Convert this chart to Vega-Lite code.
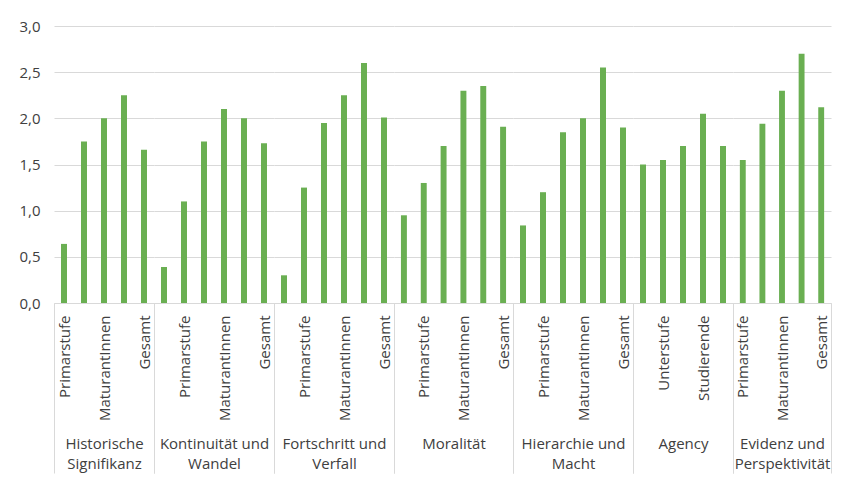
{
  "$schema": "https://vega.github.io/schema/vega-lite/v6.json",
  "padding": {"left": 18, "top": 19, "right": 5, "bottom": 5},
  "background": "white",
  "bounds": "flush",
  "data": {"values": [
    {"group": "Historische Signifikanz", "slot": "01|Primarstufe", "value": 0.64},
    {"group": "Historische Signifikanz", "slot": "02|Unterstufe", "value": 1.75},
    {"group": "Historische Signifikanz", "slot": "03|MaturantInnen", "value": 2.0},
    {"group": "Historische Signifikanz", "slot": "04|Studierende", "value": 2.25},
    {"group": "Historische Signifikanz", "slot": "05|Gesamt", "value": 1.66},
    {"group": "Kontinuität und Wandel", "slot": "06|Kindergarten", "value": 0.39},
    {"group": "Kontinuität und Wandel", "slot": "07|Primarstufe", "value": 1.1},
    {"group": "Kontinuität und Wandel", "slot": "08|Unterstufe", "value": 1.75},
    {"group": "Kontinuität und Wandel", "slot": "09|MaturantInnen", "value": 2.1},
    {"group": "Kontinuität und Wandel", "slot": "10|Studierende", "value": 2.0},
    {"group": "Kontinuität und Wandel", "slot": "11|Gesamt", "value": 1.73},
    {"group": "Fortschritt und Verfall", "slot": "12|Kindergarten", "value": 0.3},
    {"group": "Fortschritt und Verfall", "slot": "13|Primarstufe", "value": 1.25},
    {"group": "Fortschritt und Verfall", "slot": "14|Unterstufe", "value": 1.95},
    {"group": "Fortschritt und Verfall", "slot": "15|MaturantInnen", "value": 2.25},
    {"group": "Fortschritt und Verfall", "slot": "16|Studierende", "value": 2.6},
    {"group": "Fortschritt und Verfall", "slot": "17|Gesamt", "value": 2.01},
    {"group": "Moralität", "slot": "18|Kindergarten", "value": 0.95},
    {"group": "Moralität", "slot": "19|Primarstufe", "value": 1.3},
    {"group": "Moralität", "slot": "20|Unterstufe", "value": 1.7},
    {"group": "Moralität", "slot": "21|MaturantInnen", "value": 2.3},
    {"group": "Moralität", "slot": "22|Studierende", "value": 2.35},
    {"group": "Moralität", "slot": "23|Gesamt", "value": 1.91},
    {"group": "Hierarchie und Macht", "slot": "24|Kindergarten", "value": 0.84},
    {"group": "Hierarchie und Macht", "slot": "25|Primarstufe", "value": 1.2},
    {"group": "Hierarchie und Macht", "slot": "26|Unterstufe", "value": 1.85},
    {"group": "Hierarchie und Macht", "slot": "27|MaturantInnen", "value": 2.0},
    {"group": "Hierarchie und Macht", "slot": "28|Studierende", "value": 2.55},
    {"group": "Hierarchie und Macht", "slot": "29|Gesamt", "value": 1.9},
    {"group": "Agency", "slot": "30|Primarstufe", "value": 1.5},
    {"group": "Agency", "slot": "31|Unterstufe", "value": 1.55},
    {"group": "Agency", "slot": "32|MaturantInnen", "value": 1.7},
    {"group": "Agency", "slot": "33|Studierende", "value": 2.05},
    {"group": "Agency", "slot": "34|Gesamt", "value": 1.7},
    {"group": "Evidenz und Perspektivität", "slot": "35|Primarstufe", "value": 1.55},
    {"group": "Evidenz und Perspektivität", "slot": "36|Unterstufe", "value": 1.94},
    {"group": "Evidenz und Perspektivität", "slot": "37|MaturantInnen", "value": 2.3},
    {"group": "Evidenz und Perspektivität", "slot": "38|Studierende", "value": 2.7},
    {"group": "Evidenz und Perspektivität", "slot": "39|Gesamt", "value": 2.12}
  ]},
  "spacing": 0,
  "hconcat": [
    {
      "width": 100, "height": 277,
      "transform": [{"filter": {"field": "group", "equal": "Historische Signifikanz"}}],
      "mark": {"type": "bar", "color": "#6aaf52", "width": {"band": 0.3}},
      "encoding": {
        "x": {"field": "slot", "type": "nominal", "sort": "ascending", "scale": {"paddingInner": 0, "paddingOuter": 0},
          "axis": {"title": ["Historische", "Signifikanz"], "tickColor": {"condition": {"test": "datum.index < 0 || datum.index >= 1", "value": "#d9d9d9"}, "value": "transparent"}}},
        "y": {"field": "value", "type": "quantitative", "scale": {"domain": [0, 3], "nice": false},
          "axis": {"labels": true}}
      }
    },
    {
      "width": 120, "height": 277,
      "transform": [{"filter": {"field": "group", "equal": "Kontinuität und Wandel"}}],
      "mark": {"type": "bar", "color": "#6aaf52", "width": {"band": 0.3}},
      "encoding": {
        "x": {"field": "slot", "type": "nominal", "sort": "ascending", "scale": {"paddingInner": 0, "paddingOuter": 0},
          "axis": {"title": ["Kontinuität und", "Wandel"], "tickColor": {"condition": {"test": "datum.index < 0 || datum.index >= 1", "value": "#d9d9d9"}, "value": "transparent"}}},
        "y": {"field": "value", "type": "quantitative", "scale": {"domain": [0, 3], "nice": false},
          "axis": {"labels": false}}
      }
    },
    {
      "width": 120, "height": 277,
      "transform": [{"filter": {"field": "group", "equal": "Fortschritt und Verfall"}}],
      "mark": {"type": "bar", "color": "#6aaf52", "width": {"band": 0.3}},
      "encoding": {
        "x": {"field": "slot", "type": "nominal", "sort": "ascending", "scale": {"paddingInner": 0, "paddingOuter": 0},
          "axis": {"title": ["Fortschritt und", "Verfall"], "tickColor": {"condition": {"test": "datum.index < 0 || datum.index >= 1", "value": "#d9d9d9"}, "value": "transparent"}}},
        "y": {"field": "value", "type": "quantitative", "scale": {"domain": [0, 3], "nice": false},
          "axis": {"labels": false}}
      }
    },
    {
      "width": 119, "height": 277,
      "transform": [{"filter": {"field": "group", "equal": "Moralität"}}],
      "mark": {"type": "bar", "color": "#6aaf52", "width": {"band": 0.3}},
      "encoding": {
        "x": {"field": "slot", "type": "nominal", "sort": "ascending", "scale": {"paddingInner": 0, "paddingOuter": 0},
          "axis": {"title": "Moralität", "tickColor": {"condition": {"test": "datum.index < 0 || datum.index >= 1", "value": "#d9d9d9"}, "value": "transparent"}}},
        "y": {"field": "value", "type": "quantitative", "scale": {"domain": [0, 3], "nice": false},
          "axis": {"labels": false}}
      }
    },
    {
      "width": 120, "height": 277,
      "transform": [{"filter": {"field": "group", "equal": "Hierarchie und Macht"}}],
      "mark": {"type": "bar", "color": "#6aaf52", "width": {"band": 0.3}},
      "encoding": {
        "x": {"field": "slot", "type": "nominal", "sort": "ascending", "scale": {"paddingInner": 0, "paddingOuter": 0},
          "axis": {"title": ["Hierarchie und", "Macht"], "tickColor": {"condition": {"test": "datum.index < 0 || datum.index >= 1", "value": "#d9d9d9"}, "value": "transparent"}}},
        "y": {"field": "value", "type": "quantitative", "scale": {"domain": [0, 3], "nice": false},
          "axis": {"labels": false}}
      }
    },
    {
      "width": 100, "height": 277,
      "transform": [{"filter": {"field": "group", "equal": "Agency"}}],
      "mark": {"type": "bar", "color": "#6aaf52", "width": {"band": 0.3}},
      "encoding": {
        "x": {"field": "slot", "type": "nominal", "sort": "ascending", "scale": {"paddingInner": 0, "paddingOuter": 0},
          "axis": {"title": "Agency", "tickColor": {"condition": {"test": "datum.index < 0 || datum.index >= 1", "value": "#d9d9d9"}, "value": "transparent"}}},
        "y": {"field": "value", "type": "quantitative", "scale": {"domain": [0, 3], "nice": false},
          "axis": {"labels": false}}
      }
    },
    {
      "width": 98, "height": 277,
      "transform": [{"filter": {"field": "group", "equal": "Evidenz und Perspektivität"}}],
      "mark": {"type": "bar", "color": "#6aaf52", "width": {"band": 0.3}},
      "encoding": {
        "x": {"field": "slot", "type": "nominal", "sort": "ascending", "scale": {"paddingInner": 0, "paddingOuter": 0},
          "axis": {"title": ["Evidenz und", "Perspektivität"], "tickColor": {"condition": {"test": "datum.index < 0 || datum.index >= 1", "value": "#d9d9d9"}, "value": "transparent"}}},
        "y": {"field": "value", "type": "quantitative", "scale": {"domain": [0, 3], "nice": false},
          "axis": {"labels": false}}
      }
    }
  ],
  "config": {
    "view": {"stroke": null},
    "font": "Open Sans",
    "axisX": {
      "labelAngle": -90,
      "labelExpr": "toNumber(substring(datum.value + '', 0, 2)) % 2 == 1 ? split(datum.value + '', '|')[1] : ''",
      "labelFontSize": 15,
      "labelFont": "Open Sans",
      "labelColor": "#404040",
      "labelPadding": -158,
      "labelOverlap": false,
      "labelBound": false,
      "tickBand": "extent",
      "tickSize": 170,
      "tickWidth": 1,
      "domainColor": "#d9d9d9",
      "domainWidth": 1,
      "titleFont": "Open Sans",
      "titleFontSize": 15,
      "titleFontWeight": "normal",
      "titleColor": "#404040",
      "titleLineHeight": 20,
      "titlePadding": -37
    },
    "axisY": {
      "title": null,
      "values": [0, 0.5, 1, 1.5, 2, 2.5, 3],
      "labelExpr": "replace(format(datum.value, '.1f'), '.', ',')",
      "labelFontSize": 15,
      "labelFont": "Open Sans",
      "labelColor": "#404040",
      "labelPadding": 14,
      "domain": false,
      "ticks": false,
      "grid": true,
      "gridColor": "#d9d9d9",
      "gridWidth": 1
    }
  }
}
